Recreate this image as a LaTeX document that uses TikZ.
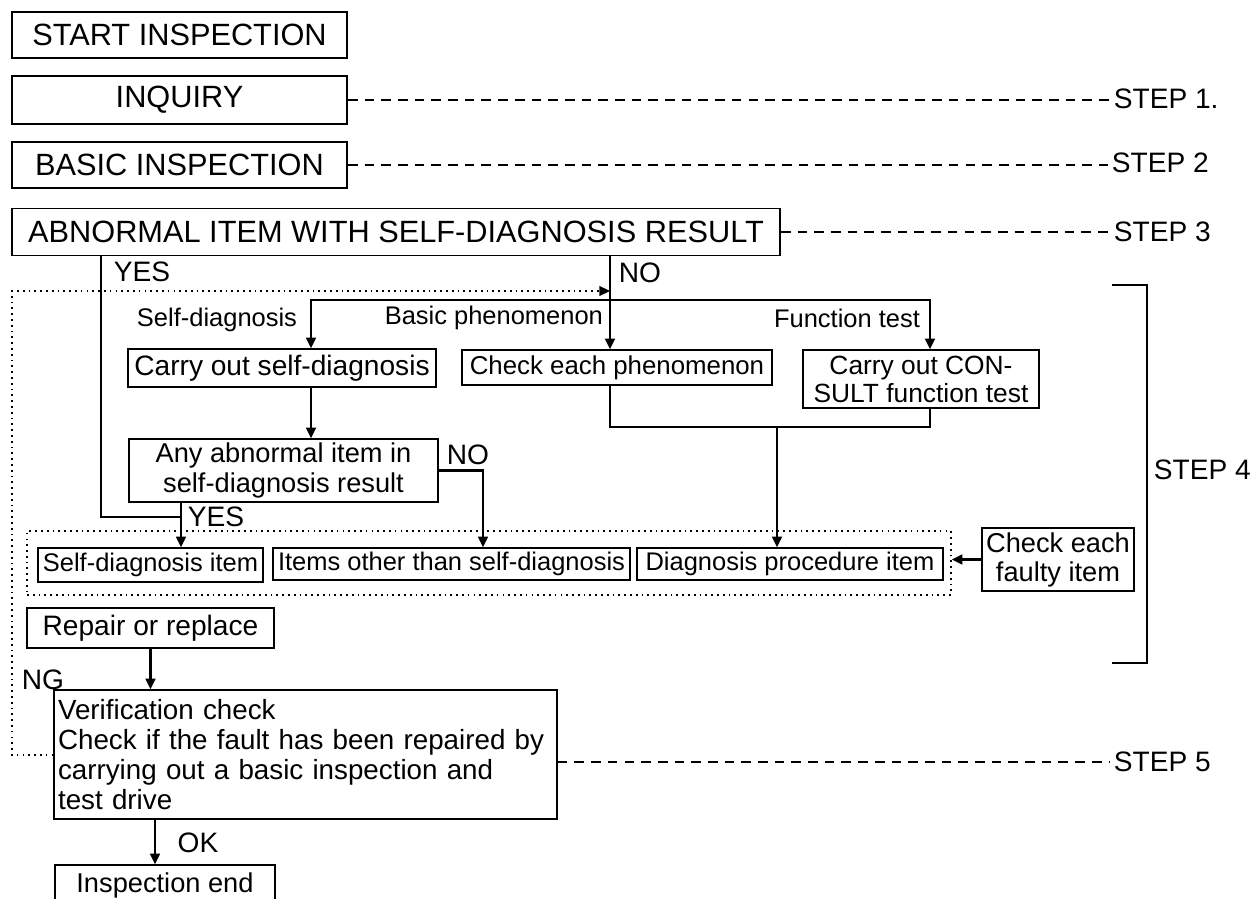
\documentclass[tikz,border=0pt]{standalone}
\usepackage{fontspec}
\setmainfont{Liberation Sans}
\usetikzlibrary{arrows.meta}

\begin{document}
\begin{tikzpicture}[x=0.02cm,y=-0.02cm,
  big/.style={draw,line width=1.1pt,inner sep=0pt,font=\fontsize{17.5}{20}\selectfont},
  box/.style={draw,line width=0.9pt,inner sep=0pt,align=center,font=\fontsize{16}{17}\selectfont},
  item/.style={box,font=\fontsize{14.5}{16.5}\selectfont},
  lab/.style={inner sep=1pt,font=\fontsize{14.5}{17}\selectfont},
  yn/.style={inner sep=1pt,font=\fontsize{16}{18}\selectfont},
  steplab/.style={anchor=west,inner sep=2pt,font=\fontsize{16}{18}\selectfont},
  conn/.style={line width=1.3pt},
  arr/.style={conn,-{Triangle[length=6pt,width=5.5pt]}},
  dotline/.style={line width=1pt,dash pattern=on 1pt off 2.3pt},
  stepline/.style={line width=1pt,dash pattern=on 5.5pt off 4pt}]

\useasboundingbox (0,0) rectangle (1251,899);

% top of the flow
\node[big,minimum width=6.7cm,minimum height=0.92cm] (start) at (179.5,35) {START INSPECTION};
\node[big,minimum width=6.7cm,minimum height=0.96cm] (inquiry) at (179.5,100) {INQUIRY};
\node[big,minimum width=6.7cm,minimum height=0.92cm] (basic) at (179.5,165) {BASIC INSPECTION};
\node[big,minimum width=15.36cm,minimum height=0.94cm] (abnormal) at (396,232) {ABNORMAL ITEM WITH SELF-DIAGNOSIS RESULT};

% step labels
\node[steplab] (s1) at (1110,99) {STEP 1.};
\node[steplab] (s2) at (1108,163) {STEP 2};
\node[steplab] (s3) at (1110,232) {STEP 3};
\node[steplab] (s4) at (1150,470) {STEP 4};
\node[steplab] (s5) at (1110,762) {STEP 5};
\draw[stepline] (inquiry.east) -- (inquiry.east -| s1.west);
\draw[stepline] (basic.east) -- (basic.east -| s2.west);
\draw[stepline] (abnormal.east) -- (abnormal.east -| s3.west);

% step 4
\node[box,minimum width=6.16cm,minimum height=0.76cm] (sdcarry) at (282,368) {Carry out self-diagnosis};
\node[item,font=\fontsize{14.7}{16.5}\selectfont,minimum width=6.2cm,minimum height=0.7cm] (phen) at (617,367.5) {Check each phenomenon};
\node[box,font=\fontsize{15}{16}\selectfont,minimum width=4.72cm,minimum height=1.16cm] (consult) at (921,379) {Carry out CON-\\SULT function test};
\node[box,font=\fontsize{15.5}{17}\selectfont,minimum width=6.18cm,minimum height=1.26cm] (anyab) at (283.5,470.5) {Any abnormal item in\\self-diagnosis result};
\node[draw,dotline,minimum width=18.48cm,minimum height=1.28cm] (group) at (489,563) {};
\node[item,minimum width=4.5cm,minimum height=0.68cm] (sditem) at (150.5,565) {Self-diagnosis item};
\node[item,minimum width=7.14cm,minimum height=0.64cm] (otheritem) at (451.5,564) {Items other than self-diagnosis};
\node[item,minimum width=6.12cm,minimum height=0.64cm] (dpitem) at (790,564) {Diagnosis procedure item};
\node[box,font=\fontsize{15.5}{16.5}\selectfont,minimum width=3.04cm,minimum height=1.26cm] (faulty) at (1058,559.5) {Check each\\faulty item};
\draw[conn] (1112,285) -| (1147,663) -- (1112,663);

% step 5
\node[box,minimum width=4.94cm,minimum height=0.8cm] (repair) at (150.5,628) {Repair or replace};
\node[box,font=\fontsize{15.8}{17}\selectfont,text width=9.9cm,inner xsep=0.08cm,minimum height=2.58cm,align=left] (verify) at (305.5,754.5)
  {Verification check\\Check if the fault has been repaired by\\carrying out a basic inspection and\\test drive};
\node[box,font=\fontsize{15.5}{17}\selectfont,minimum width=4.4cm,minimum height=0.8cm] (inspend) at (165,885) {Inspection end};
\draw[stepline] (s5.west -| verify.east) -- (s5.west);

% bend points
\coordinate (yesx) at (101,0);
\coordinate (yesj) at (181,517);
\coordinate (nox) at (610,0);
\coordinate (split) at (610,300);
\coordinate (sdx) at (311,0);
\coordinate (fnx) at (930,0);
\coordinate (mrg) at (777,427);
\coordinate (nox2) at (483,0);
\coordinate (okx) at (155,0);
\coordinate (ngy) at (0,755);
\coordinate (lpx) at (12,291);

% connectors
\draw[conn] (abnormal.south -| yesx) |- (yesj);
\draw[arr] (anyab.south -| yesj) -- (sditem.north -| yesj);
\draw[arr] (abnormal.south -| nox) -- (phen.north -| nox);
\draw[arr] (split) -| (sdcarry.north -| sdx);
\draw[arr] (split) -| (consult.north -| fnx);
\draw[arr] (sdcarry.south -| sdx) -- (anyab.north -| sdx);
\draw[conn] (phen.south -| nox) |- (mrg -| fnx) -- (consult.south -| fnx);
\draw[arr] (mrg) -- (dpitem.north -| mrg);
\draw[arr] (anyab.east) -| (otheritem.north -| nox2);
\draw[arr] (faulty.west) -- (faulty.west -| group.east);
\draw[arr] (repair.south) -- (verify.north -| repair.south);
\draw[arr] (verify.south -| okx) -- (inspend.north -| okx);
\draw[dotline,-{Triangle[length=6pt,width=5.5pt]}] (verify.west |- ngy) -| (lpx) -- (lpx -| nox);

% labels on the lines
\node[yn] (yes1) at (142,272) {YES};
\node[yn] (no1) at (640,273) {NO};
\node[lab] (lsd) at (217,320) {Self-diagnosis};
\node[lab,anchor=east] (lbp) at (605,318) {Basic phenomenon};
\node[lab,anchor=east] (lft) at (922,318) {Function test};
\node[yn] (no2) at (468,455) {NO};
\node[yn] (yes2) at (216,517) {YES};
\node[yn] (ng) at (43,680) {NG};
\node[yn] (ok) at (198,843) {OK};
\end{tikzpicture}
\end{document}
